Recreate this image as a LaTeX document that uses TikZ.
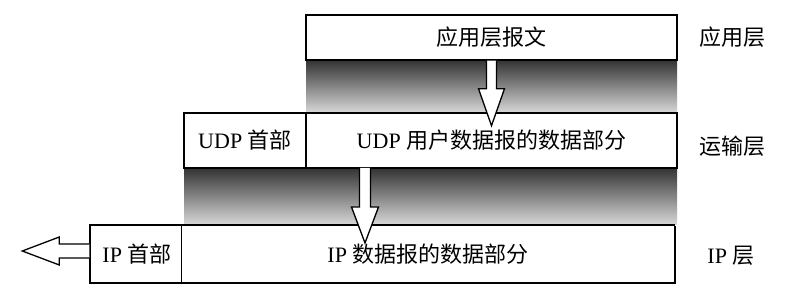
\documentclass[tikz,border=0pt]{standalone}
\usepackage{fontspec}
\setmainfont{Liberation Serif}
\newfontfamily\cjk{Noto Sans CJK SC}
\usetikzlibrary{calc,shadows}

\begin{document}
\begin{tikzpicture}[x=1pt,y=-1pt,line width=1.4pt,
  box/.style={draw,fill=white,inner sep=0pt,
    drop shadow={shadow xshift=1.3pt,shadow yshift=-1.3pt,fill=black,opacity=1}},
  band/.style={top color=black!80,bottom color=black!15},
  hollow/.style={draw,fill=white,line width=1.3pt,line join=miter},
  every node/.style={font=\fontsize{22}{25}\selectfont}]
\useasboundingbox (0,0) rectangle (792,304);
% ---------- shaded bands between layers ----------
\shade[band] (306,60) rectangle (677,113);
\shade[band] (184,168) rectangle (677,225);
% ---------- application layer ----------
\node[box,minimum width=371pt,minimum height=45pt] (app) at (491.5,37.5) {\cjk 应用层报文};
\node (lapp) at (732,37.5) {\cjk 应用层};
% ---------- transport layer ----------
\node[box,minimum width=122pt,minimum height=55pt] (udphead) at (245,140.5) {UDP \cjk 首部};
\node[box,minimum width=371pt,minimum height=55pt] (udpdata) at (491.5,140.5) {UDP \cjk 用户数据报的数据部分};
\node (ltrans) at (732,146) {\cjk 运输层};
% ---------- IP layer ----------
\node[box,minimum width=94pt,minimum height=58pt] (iphead) at (137,254) {IP \cjk 首部};
\node[box,minimum width=493pt,minimum height=58pt] (ipdata) at (428,254) {IP \cjk 数据报的数据部分};
\node (lip) at (731,256) {IP \cjk 层};
% ---------- hollow arrows ----------
\coordinate (a1) at (app.south);
\draw[hollow] ($(a1)+(-5,0)$) -- ($(a1)+(-5,28)$) -- ($(a1)+(-13,28)$) -- ($(a1)+(0,65)$)
  -- ($(a1)+(13,28)$) -- ($(a1)+(5,28)$) -- ($(a1)+(5,0)$);
\coordinate (a2) at (365,168);
\draw[hollow] ($(a2)+(-5.5,0)$) -- ($(a2)+(-5.5,39)$) -- ($(a2)+(-13.5,39)$) -- ($(a2)+(0,75)$)
  -- ($(a2)+(13.5,39)$) -- ($(a2)+(5.5,39)$) -- ($(a2)+(5.5,0)$);
\coordinate (a3) at ($(iphead.west)+(0,-3)$);
\draw[hollow] ($(a3)+(0,-7)$) -- ($(a3)+(-30,-7)$) -- ($(a3)+(-30,-14)$) -- ($(a3)+(-67,0)$)
  -- ($(a3)+(-30,14)$) -- ($(a3)+(-30,7)$) -- ($(a3)+(0,7)$);
\end{tikzpicture}
\end{document}
